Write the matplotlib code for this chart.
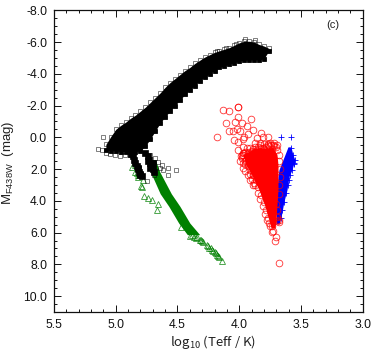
import matplotlib
matplotlib.use('Agg')
import matplotlib.pyplot as plt
from matplotlib.ticker import MultipleLocator, FormatStrFormatter

plt.rcParams['font.family'] = ['Liberation Sans', 'DejaVu Sans']
plt.rcParams['mathtext.default'] = 'regular'

# black squares, band edges (log Teff, upper and lower magnitude)
black_logt = [5.08, 5.04, 5.00, 4.96, 4.92, 4.88, 4.84, 4.80, 4.76, 4.72, 4.68, 4.64, 4.60,
              4.56, 4.52, 4.48, 4.44, 4.40, 4.36, 4.32, 4.28, 4.24, 4.20, 4.16, 4.12, 4.08,
              4.04, 4.00, 3.96, 3.92, 3.88, 3.84, 3.80, 3.76]
black_upper = [0.45, -0.05, -0.50, -0.75, -0.95, -1.20, -1.40, -1.65, -1.90, -2.20, -2.50, -2.80, -3.15,
               -3.45, -3.70, -3.95, -4.20, -4.40, -4.65, -4.85, -5.05, -5.20, -5.35, -5.45, -5.55, -5.65,
               -5.80, -5.95, -6.05, -6.05, -6.00, -5.85, -5.75, -5.60]
black_lower = [0.80, 0.85, 0.85, 0.90, 0.90, 0.90, 0.90, 0.85, 0.55, 0.10, -0.40, -0.90, -1.30,
               -1.65, -2.00, -2.35, -2.70, -3.00, -3.25, -3.55, -3.80, -4.00, -4.20, -4.40, -4.50, -4.60,
               -4.70, -4.80, -4.85, -4.87, -4.87, -4.87, -4.95, -5.45]
# two legs of black squares below the band
leg1_logt = [4.88, 4.86, 4.85, 4.84, 4.83, 4.82, 4.81, 4.80, 4.79, 4.80, 4.82]
leg1_mag = [1.05, 1.2, 1.4, 1.6, 1.8, 2.0, 2.2, 2.35, 2.45, 2.3, 1.9]
leg2_logt = [4.76, 4.74, 4.73, 4.72, 4.71, 4.70, 4.69, 4.72, 4.70, 4.74]
leg2_mag = [1.0, 1.2, 1.4, 1.6, 1.8, 2.0, 2.2, 1.9, 1.6, 1.5]
# loose black squares
stray_logt = [5.103, 5.144, 5.114, 5.079, 5.047, 5.006, 4.966, 4.925, 4.885, 4.723, 4.682, 4.658, 4.642,
              4.626, 4.617, 4.577, 4.577, 4.512, 4.75, 4.69, 4.706, 3.95, 3.87, 4.03, 4.11, 4.18]
stray_mag = [-0.03, 0.72, 0.79, 0.97, 1.04, 1.10, 1.16, 1.10, 1.10, 1.10, 1.29, 1.54, 1.92,
             1.73, 2.04, 1.92, 2.36, 2.04, 2.74, 2.36, 1.6, -6.2, -6.13, -5.85, -5.6, -5.45]

# green triangles
green_band_mag = [1.4, 2.15, 3.55, 4.35, 5.40, 6.13]
green_band_hot = [4.75, 4.72, 4.64, 4.57, 4.49, 4.42]
green_band_cool = [4.68, 4.645, 4.55, 4.48, 4.40, 4.32]
green_logt = [4.87, 4.844, 4.83, 4.82, 4.844, 4.817, 4.777, 4.798, 4.79, 4.771, 4.736, 4.704, 4.66, 4.668,
              4.474, 4.40, 4.35, 4.32, 4.29, 4.243, 4.21, 4.175, 4.14, 4.385, 4.37, 4.34, 4.31, 4.30,
              4.26, 4.25, 4.23, 4.22, 4.20, 4.19, 4.18, 4.165]
green_mag = [1.84, 1.73, 2.23, 2.47, 2.21, 2.36, 2.67, 3.05, 3.1, 3.72, 3.82, 3.97, 4.18, 4.6,
             5.65, 6.2, 6.34, 6.45, 6.6, 6.97, 7.18, 7.45, 7.81, 6.15, 6.25, 6.3, 6.45, 6.5,
             6.8, 6.85, 7.0, 7.1, 7.25, 7.3, 7.4, 7.55]

# red circles
red_band_mag = [0.66, 1.10, 1.73, 2.36, 3.30, 4.25, 5.19, 5.69]
red_band_hot = [3.87, 3.97, 3.945, 3.90, 3.84, 3.795, 3.76, 3.743]
red_band_cool = [3.727, 3.694, 3.686, 3.686, 3.686, 3.694, 3.702, 3.71]
red_logt = [4.129, 4.08, 4.007, 4.007, 4.013, 4.107, 4.034, 3.98, 3.905, 3.94, 4.083, 4.053, 4.015, 3.994,
            3.891, 4.183, 3.932, 3.959, 3.824, 3.859, 3.764, 3.805, 4.04, 4.007, 3.967, 3.872, 4.013,
            3.967, 3.832, 3.94, 3.724, 3.764, 3.9, 3.805, 3.967, 3.986, 3.953, 3.926, 3.886, 3.845,
            3.737, 3.697, 3.97, 3.945, 3.913, 3.889, 3.864, 3.848, 3.824, 3.8, 3.783, 3.767, 3.751,
            3.735, 3.70, 3.713, 3.676, 3.727, 3.735, 3.69, 3.68, 3.675, 3.69, 3.69, 3.70,
            3.98, 3.96, 3.94, 3.92, 3.90, 3.88, 3.86, 3.84, 3.82, 3.80, 3.78, 3.76, 3.74, 3.72, 3.70,
            3.69, 3.68, 3.675, 3.67, 3.67, 3.675, 3.68, 3.95, 3.93, 3.91, 3.90, 3.88, 3.87, 3.85, 3.83,
            3.81, 3.79, 3.775, 3.76,
            3.99, 3.97, 3.98, 3.95, 3.93, 3.91, 3.89, 3.87, 3.85, 3.83, 3.80, 3.77, 3.75, 3.72,
            3.97, 3.95, 3.93, 3.91, 3.89]
red_mag = [-1.73, -1.63, -1.94, -1.88, -1.31, -0.89, -0.95, -0.89, -1.14, -0.74, -0.41, -0.41, -0.51, -0.41,
           -0.45, -0.01, -0.2, -0.05, -0.3, 0.05, 0.01, 0.01, 0.16, 0.32, 0.11, 0.37, 0.79,
           0.58, 0.37, 0.68, 0.47, 0.47, 0.89, 0.68, 0.99, 1.2, 1.52, 1.83, 2.36, 2.15,
           0.79, 0.47, 1.1, 1.41, 2.04, 2.36, 2.67, 3.11, 3.61, 4.05, 4.55, 5.06, 5.56,
           5.94, 6.30, 6.55, 7.94, 5.92, 5.61, 5.0, 5.2, 5.35, 5.3, 4.6, 4.2,
           1.3, 1.0, 1.2, 0.9, 1.2, 0.95, 0.8, 1.0, 0.7, 0.75, 0.6, 0.55, 0.5, 0.55, 0.6,
           0.8, 1.1, 1.5, 2.0, 2.5, 3.0, 3.6, 1.7, 1.6, 2.3, 2.6, 2.9, 3.0, 3.5, 3.9,
           4.3, 4.8, 5.2, 5.4,
           1.5, 1.6, 1.1, 0.9, 1.0, 0.7, 0.75, 0.6, 0.6, 0.5, 0.45, 0.4, 0.35, 0.35,
           1.9, 2.1, 2.4, 2.7, 3.0]

# blue plus signs
blue_band_mag = [0.60, 1.10, 1.41, 2.04, 2.48, 3.30, 4.05, 5.06, 5.44]
blue_band_hot = [3.605, 3.63, 3.646, 3.678, 3.686, 3.694, 3.698, 3.702, 3.702]
blue_band_cool = [3.581, 3.565, 3.549, 3.573, 3.597, 3.613, 3.638, 3.662, 3.678]
blue_logt = [3.665, 3.584, 3.565, 3.549, 3.56, 3.573, 3.59, 3.605, 3.62, 3.638, 3.65, 3.662, 3.58, 3.555, 3.6]
blue_mag = [-0.01, -0.01, 1.1, 1.41, 1.7, 2.04, 2.4, 3.0, 3.5, 4.05, 4.6, 5.06, 0.7, 1.6, 2.7]

fig = plt.figure(figsize=(3.74, 3.51), dpi=100)
ax = fig.add_axes([54 / 374, 1 - 312 / 351, (362.7 - 54) / 374, (312 - 10.3) / 351])

red = '#ff0000'
blue = '#0000ff'
green = '#008000'

# where the markers pile up they are solid
ax.fill_betweenx(blue_band_mag, blue_band_hot, blue_band_cool, color=blue, lw=0, zorder=2)
ax.plot(blue_logt, blue_mag, '+', color=blue, ms=4.2, mew=0.6, zorder=2)
ax.fill_betweenx(red_band_mag, red_band_hot, red_band_cool, color=red, lw=0, zorder=3)
ax.plot(red_logt, red_mag, 'o', mfc='none', mec=red, ms=4.8, mew=0.6, alpha=0.8, zorder=3)
ax.fill_betweenx(green_band_mag, green_band_hot, green_band_cool, color=green, lw=0, zorder=4)
ax.plot(green_logt, green_mag, '^', mfc='none', mec=green, ms=3.8, mew=0.6, alpha=0.8, zorder=4)
ax.fill_between(black_logt, black_upper, black_lower, color='black', lw=0, zorder=5)
ax.plot(black_logt, black_upper, 's', mfc='none', mec='black', ms=3.4, mew=0.5, alpha=0.7, zorder=5)
ax.plot(black_logt, black_lower, 's', mfc='black', mec='black', ms=3.4, mew=0.6, zorder=5)
ax.plot(leg1_logt, leg1_mag, 's', color='black', ms=4.2, mew=0.5, zorder=5)
ax.plot(leg2_logt, leg2_mag, 's', color='black', ms=4.2, mew=0.5, zorder=5)
ax.plot(stray_logt, stray_mag, 's', mfc='none', mec='black', ms=3.2, mew=0.5, alpha=0.7, zorder=5)

ax.set_xlim(5.5, 3.0)
ax.set_ylim(11.0, -8.0)
ax.xaxis.set_major_locator(MultipleLocator(0.5))
ax.xaxis.set_minor_locator(MultipleLocator(0.1))
ax.yaxis.set_major_locator(MultipleLocator(2.0))
ax.yaxis.set_minor_locator(MultipleLocator(0.5))
ax.xaxis.set_major_formatter(FormatStrFormatter('%.1f'))
ax.yaxis.set_major_formatter(FormatStrFormatter('%.1f'))
ax.tick_params(which='both', direction='in', top=True, right=True, width=0.7, colors='#111111', labelsize=8.7)
ax.tick_params(which='major', length=5, pad=5)
ax.tick_params(which='minor', length=2.2)
for spine in ax.spines.values():
    spine.set_linewidth(0.9)
    spine.set_color('#111111')

ax.text(0.903, 0.952, '(c)', transform=ax.transAxes, ha='center', va='center', fontsize=8, color='#222222')
fig.text(213 / 374, 1 - 342 / 351, 'log$_{10}$ (Teff / K)', ha='center', va='center', fontsize=9.5,
         color='#222222', family=['Noto Sans CJK JP', 'DejaVu Sans'])
fig.text(8 / 374, 1 - 163 / 351, 'M$_{F438W}$  (mag)', ha='center', va='center', rotation=90, fontsize=9.5,
         color='#222222', family=['Liberation Sans', 'DejaVu Sans'])

fig.savefig('out.png', dpi=100)
